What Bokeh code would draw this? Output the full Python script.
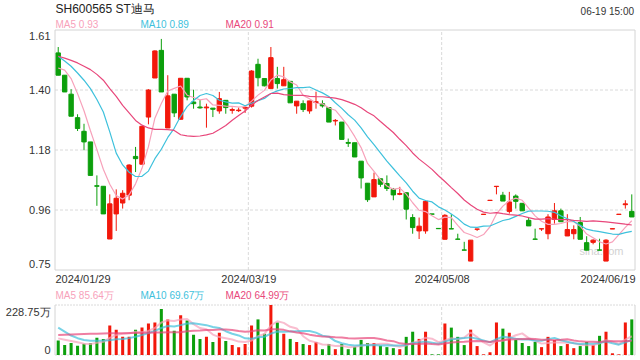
import pandas as pd
from bokeh.plotting import figure
from bokeh.models import Range1d, Label, ColumnDataSource
from bokeh.embed import file_html
from bokeh.resources import INLINE

# ---------------- data ----------------
symbol = "SH600565 ST迪马"
stamp = "06-19 15:00"
x_labels = ["2024/01/29", "2024/03/19", "2024/05/08", "2024/06/19"]
y_ticks = [1.61, 1.395, 1.18, 0.965, 0.75]
y_tick_labels = ["1.61", "1.40", "1.18", "0.96", "0.75"]
vol_ticks = [228.75, 0]
vol_tick_labels = ["228.75万", "0"]
price_legend = ["MA5 0.93", "MA10 0.89", "MA20 0.91"]
vol_legend = ["MA5 85.64万", "MA10 69.67万", "MA20 64.99万"]

opens = [1.528, 1.448, 1.380, 1.296, 1.247, 1.209, 1.052, 1.050, 0.861, 0.951,
         0.990, 1.018, 1.157, 1.129, 1.298, 1.438, 1.537, 1.259, 1.380, 1.290,
         1.437, 1.352, 1.334, 1.331, 1.330, 1.320, 1.358, 1.322, 1.321, 1.330,
         1.337, 1.487, 1.436, 1.400, 1.436, 1.410, 1.426, 1.338, 1.346, 1.320,
         1.350, 1.346, 1.332, 1.284, 1.280, 1.207, 1.206, 1.140, 1.061, 1.012,
         1.077, 1.060, 1.039, 1.021, 1.027, 0.938, 0.890, 0.890, 0.951, 0.899,
         0.860, 0.898, 0.861, 0.822, 0.782, 0.896, 0.949, 0.999, 1.049, 1.018,
         0.960, 1.015, 0.989, 0.928, 0.861, 0.897, 0.880, 0.931, 0.962, 0.872,
         0.880, 0.920, 0.848, 0.849, 0.822, 0.782, 0.897, 0.949, 0.984, 0.960]
highs = [1.549, 1.448, 1.398, 1.308, 1.274, 1.209, 1.089, 1.050, 1.021, 1.039,
         1.036, 1.129, 1.191, 1.265, 1.398, 1.537, 1.578, 1.448, 1.380, 1.437,
         1.437, 1.396, 1.360, 1.346, 1.330, 1.388, 1.358, 1.332, 1.332, 1.337,
         1.466, 1.507, 1.436, 1.549, 1.478, 1.478, 1.426, 1.355, 1.358, 1.356,
         1.389, 1.358, 1.332, 1.291, 1.280, 1.221, 1.206, 1.140, 1.061, 1.099,
         1.077, 1.089, 1.044, 1.048, 1.027, 0.950, 0.938, 1.000, 0.951, 0.899,
         0.950, 0.950, 0.880, 0.851, 0.857, 0.897, 0.950, 1.000, 1.050, 1.030,
         1.030, 1.021, 0.989, 0.940, 0.898, 0.898, 0.950, 0.990, 0.970, 0.950,
         0.910, 0.940, 0.871, 0.860, 0.862, 0.860, 0.898, 0.950, 1.000, 1.021]
lows = [1.448, 1.388, 1.301, 1.248, 1.179, 1.089, 0.980, 0.951, 0.861, 0.890,
        0.970, 1.000, 1.101, 1.129, 1.272, 1.438, 1.388, 1.259, 1.298, 1.290,
        1.358, 1.328, 1.328, 1.260, 1.298, 1.310, 1.310, 1.310, 1.316, 1.313,
        1.332, 1.408, 1.408, 1.400, 1.400, 1.410, 1.349, 1.310, 1.316, 1.310,
        1.328, 1.332, 1.280, 1.268, 1.218, 1.191, 1.155, 1.042, 0.994, 1.012,
        1.048, 1.033, 1.000, 1.018, 0.931, 0.880, 0.861, 0.880, 0.950, 0.898,
        0.860, 0.897, 0.860, 0.821, 0.782, 0.890, 0.949, 0.999, 1.021, 0.997,
        0.952, 0.970, 0.962, 0.908, 0.860, 0.890, 0.860, 0.916, 0.923, 0.872,
        0.860, 0.860, 0.821, 0.842, 0.821, 0.782, 0.897, 0.949, 0.970, 0.940]
closes = [1.448, 1.388, 1.301, 1.257, 1.209, 1.089, 1.050, 0.951, 0.987, 1.007,
          1.025, 1.126, 1.149, 1.265, 1.395, 1.535, 1.388, 1.374, 1.313, 1.437,
          1.370, 1.346, 1.331, 1.334, 1.326, 1.364, 1.332, 1.325, 1.323, 1.333,
          1.463, 1.439, 1.410, 1.511, 1.418, 1.432, 1.349, 1.355, 1.325, 1.356,
          1.353, 1.338, 1.280, 1.286, 1.218, 1.204, 1.155, 1.080, 1.002, 1.074,
          1.057, 1.042, 1.019, 1.024, 0.968, 0.902, 0.907, 0.996, 0.950, 0.898,
          0.946, 0.897, 0.860, 0.821, 0.857, 0.897, 0.950, 1.000, 1.050, 0.997,
          0.994, 0.996, 0.962, 0.908, 0.860, 0.898, 0.940, 0.962, 0.923, 0.895,
          0.895, 0.860, 0.821, 0.857, 0.821, 0.857, 0.898, 0.950, 0.987, 0.940]
volumes = [65.8, 45.4, 54.8, 42.3, 51.7, 54.8, 78.4, 73.6, 134.7, 115.9,
           83.0, 83.0, 115.9, 125.3, 144.1, 148.8, 209.9, 162.9, 111.2, 181.7,
           158.2, 92.4, 73.6, 83.0, 59.6, 101.8, 64.2, 45.4, 36.0, 50.1,
           134.7, 162.9, 97.2, 228.75, 148.8, 97.2, 73.6, 59.6, 50.1, 45.4,
           59.6, 26.6, 50.1, 26.6, 50.1, 26.6, 37.6, 68.9, 54.8, 54.8,
           42.3, 36.0, 31.3, 26.6, 83.0, 106.5, 73.6, 106.5, 3.1, 3.1,
           144.1, 125.3, 83.0, 45.4, 115.9, 40.8, 3.1, 12.5, 148.8, 120.6,
           101.8, 68.9, 54.8, 40.8, 59.6, 36.0, 83.0, 68.9, 40.8, 50.1,
           31.3, 40.8, 59.6, 45.4, 87.7, 106.5, 7.8, 3.1, 148.8, 162.9]

# moving-average values before the window is full (they depend on earlier sessions)
ma5_head = [1.474, 1.466, 1.436, 1.382]
ma10_head = [1.516, 1.499, 1.480, 1.456, 1.430, 1.400, 1.361, 1.316, 1.245]
ma20_head = [1.516, 1.509, 1.501, 1.492, 1.480, 1.468, 1.451, 1.430, 1.400, 1.372,
             1.340, 1.313, 1.286, 1.269, 1.259, 1.254, 1.254, 1.253, 1.250]
vma5_head = [76.0, 70.0, 64.0, 58.0]
vma10_head = [125.0, 107.0, 89.0, 77.0, 69.0, 65.0, 65.0, 66.0, 68.0]
vma20_head = [92.0, 93.0, 94.0, 95.0, 96.0, 97.0, 97.0, 98.0, 99.0, 99.0,
              100.0, 101.0, 101.0, 102.0, 102.0, 103.0, 103.0, 104.0, 104.0]

# ---------------- styling / layout ----------------
RED = "#f2180b"
GREEN = "#0c9f0c"
C5 = "#f7a1ba"
C10 = "#3ec1dc"
C20 = "#e8477b"
GRIDC = "#dadada"
BOXC = "#d4d4d4"
TXT = "#333333"
FONT = "Liberation Sans"

W, H = 640, 360
BOX_L, BOX_R = 54.5, 634.5        # plot box (pixels)
P_TOP, P_BOT = 29.5, 269.5        # price panel
V_TOP, V_BOT = 304.5, 354.5       # volume panel


def moving(series, n, head):
    s = pd.Series(series).rolling(n).mean().tolist()
    return head + s[len(head):]


n = len(closes)
idx = list(range(n))
colors = [RED if c >= o else GREEN for o, c in zip(opens, closes)]
src = ColumnDataSource(dict(
    x=idx, open=opens, high=highs, low=lows, close=closes,
    top=[max(o, c) for o, c in zip(opens, closes)],
    bottom=[min(o, c) for o, c in zip(opens, closes)],
    color=colors, vol=volumes,
    ma5=moving(closes, 5, ma5_head), ma10=moving(closes, 10, ma10_head),
    ma20=moving(closes, 20, ma20_head),
    vma5=moving(volumes, 5, vma5_head), vma10=moving(volumes, 10, vma10_head),
    vma20=moving(volumes, 20, vma20_head),
))

x0, x1 = -0.5, n - 0.5
ymax, ymin = max(y_ticks), min(y_ticks)
vmax = max(vol_ticks)

# ranges chosen so the data boxes land on the panel rectangles of the canvas
kx = (x1 - x0) / (BOX_R - BOX_L)
ky = (ymax - ymin) / (P_BOT - P_TOP)
kv = vmax / (V_BOT - V_TOP)
xr = Range1d(x0 - BOX_L * kx, x1 + (W - BOX_R) * kx)
yr = Range1d(ymin - (H - P_BOT) * ky, ymax + P_TOP * ky)
vr = Range1d(0 - (H - V_BOT) * kv, vmax + V_TOP * kv)

p = figure(width=W, height=H, x_range=xr, y_range=yr, x_axis_type=None, y_axis_type=None,
           output_backend="svg", toolbar_location=None,
           min_border_left=0, min_border_right=0, min_border_top=0, min_border_bottom=0)
p.extra_y_ranges = {"vol": vr}
p.outline_line_color = None
p.background_fill_color = "white"
p.border_fill_color = "white"
p.xgrid.visible = False
p.ygrid.visible = False

xgrid_pos = [x0 + (x1 - x0) / 3, x0 + 2 * (x1 - x0) / 3]


def lab(x, y, text, size, color, align="left", xo=0, yo=0, level="annotation", rng="default"):
    p.add_layout(Label(x=x, y=y, text=text, text_font=FONT, text_font_size=f"{size}px",
                       text_color=color, text_align=align, text_baseline="middle",
                       x_offset=xo, y_offset=yo, level=level, y_range_name=rng))


# watermark
lab(x1, ymin, "sina.com", 11, "#d2d2d2", align="right", xo=-11.5, yo=19.5, level="underlay")

# price panel frame and grid
p.segment(x0=[x0] * 3, x1=[x1] * 3, y0=y_ticks[1:-1], y1=y_ticks[1:-1],
          line_color=GRIDC, line_dash="3 2", line_width=1)
p.segment(x0=xgrid_pos, x1=xgrid_pos, y0=[ymin] * 2, y1=[ymax] * 2,
          line_color=GRIDC, line_dash="3 2", line_width=1)
p.quad(left=[x0], right=[x1], bottom=[ymin], top=[ymax], fill_color=None,
       line_color=BOXC, line_width=1)

# candles
p.segment(x0="x", y0="low", x1="x", y1="high", line_color="color", line_width=1, source=src)
p.vbar(x="x", width=0.68, top="top", bottom="bottom", fill_color="color",
       line_color="color", line_width=1, source=src)
p.line("x", "ma5", source=src, line_color=C5, line_width=1.2)
p.line("x", "ma10", source=src, line_color=C10, line_width=1.2)
p.line("x", "ma20", source=src, line_color=C20, line_width=1.2)

# header
lab(x0, ymax, symbol, 12, "#222222", xo=0.5, yo=21)
lab(x1, ymax, stamp, 10, TXT, align="right", xo=-1, yo=19)
for txt, col, xo in zip(price_legend, [C5, C10, C20], [0.5, 85.5, 170.5]):
    lab(x0, ymax, txt, 10, col, xo=xo, yo=5.5)

# y tick labels
for v, t in zip(y_ticks, y_tick_labels):
    yo = 0
    if v == ymax:
        yo = -5.5
    elif v == ymin:
        yo = 6.5
    lab(x0, v, t, 11, TXT, align="right", xo=-4.5, yo=yo)

# x tick labels
xpos = [x0, xgrid_pos[0], xgrid_pos[1], x1]
aligns = ["left", "center", "center", "right"]
xos = [0.5, 0.5, 0.5, 0.5]
for xp, t, a, xo in zip(xpos, x_labels, aligns, xos):
    lab(xp, ymin, t, 11, TXT, align=a, xo=xo, yo=-8.5)

# ---------------- volume panel ----------------
p.segment(x0=xgrid_pos, x1=xgrid_pos, y0=[0] * 2, y1=[vmax] * 2, y_range_name="vol",
          line_color=GRIDC, line_dash="3 2", line_width=1)
p.segment(x0=[x0, x0], x1=[x1, x1], y0=[0, vmax], y1=[0, vmax], y_range_name="vol",
          line_color=GRIDC, line_dash="2 1", line_width=1)
p.segment(x0=[x0, x1], x1=[x0, x1], y0=[0, 0], y1=[vmax, vmax], y_range_name="vol",
          line_color=BOXC, line_width=1)

p.vbar(x="x", width=0.47, top="vol", bottom=0, fill_color="color", line_color=None,
       source=src, y_range_name="vol")
p.line("x", "vma5", source=src, line_color=C5, line_width=2, line_alpha=0.7, y_range_name="vol")
p.line("x", "vma10", source=src, line_color=C10, line_width=2, line_alpha=0.7, y_range_name="vol")
p.line("x", "vma20", source=src, line_color=C20, line_width=2, line_alpha=0.7, y_range_name="vol")

for txt, col, xo in zip(vol_legend, [C5, C10, C20], [0.5, 85.5, 170.5]):
    lab(x0, vmax, txt, 10, col, xo=xo, yo=9.5, rng="vol")
lab(x0, vol_ticks[0], vol_tick_labels[0], 11, TXT, align="right", xo=-4.5, yo=-7, rng="vol")
lab(x0, vol_ticks[1], vol_tick_labels[1], 11, TXT, align="right", xo=-4.5, yo=5.5, rng="vol")

open("out.html", "w").write(file_html(p, INLINE))
